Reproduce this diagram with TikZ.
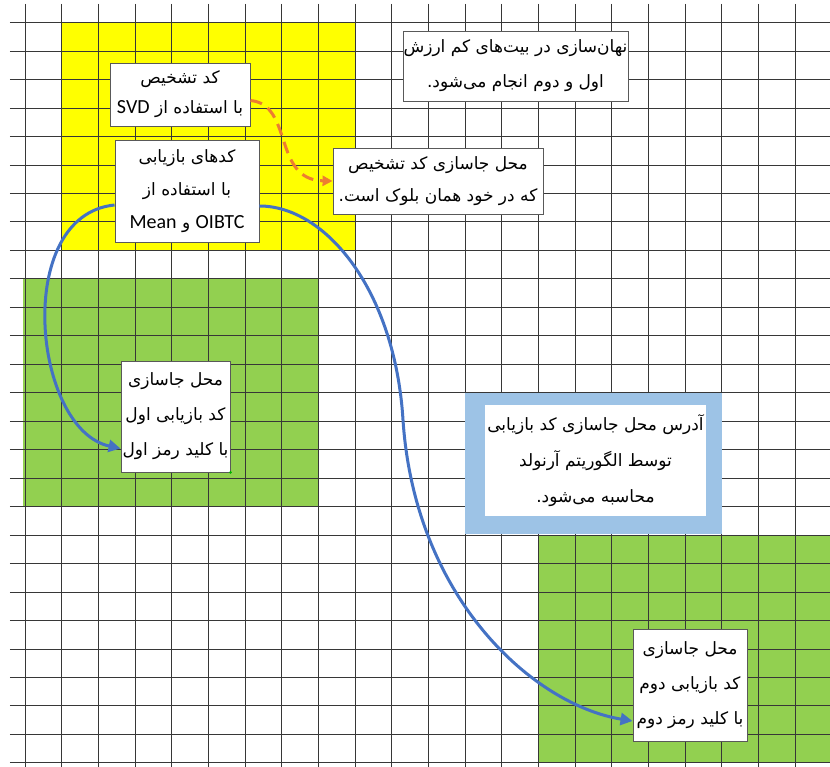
\documentclass[tikz,border=0pt]{standalone}
\usepackage{fontspec}
\usepackage{tikz}
\usetikzlibrary{arrows.meta}
\TeXXeTstate=1
\newfontfamily\arabicfont[Script=Arabic]{DejaVu Sans}
\newfontfamily\latinfont{Carlito}
\newcommand{\fatext}[1]{\beginR #1\endR}
\newcommand{\entext}[1]{\beginL{\latinfont\fontsize{20}{20}\selectfont #1}\endL}

\definecolor{cellyellow}{RGB}{255,255,0}
\definecolor{cellgreen}{RGB}{146,208,80}
\definecolor{cellblue}{RGB}{157,195,230}
\definecolor{arrowblue}{RGB}{68,114,196}
\definecolor{arroworange}{RGB}{237,125,49}
\definecolor{gridgray}{RGB}{55,55,55}

\begin{document}
\begin{tikzpicture}[x=1pt,y=-1pt,
    gridline/.style={gridgray, line width=1pt},
    notebox/.style={draw=black!65, line width=0.9pt, fill=white, inner sep=0pt, align=center,
        font=\arabicfont\fontsize{17}{33}\selectfont},
    link/.style={arrowblue, line width=3pt, -{Triangle[length=12pt,width=12pt]}}]
    \useasboundingbox (0,0) rectangle (830,767);
    \fill[white] (0,0) rectangle (830,767);

    % coloured blocks and the grid of pixels
    \begin{scope}[shift={(25,22.7)}, x=36.67pt, y=-28.47pt]
        \fill[cellyellow] (1,0) rectangle (9,8);
        \fill[cellgreen] (-0.05,9) rectangle (8,17);
        \fill[cellgreen] (14,18) rectangle (21.95,26);
        \foreach \i in {0,...,21} \draw[gridline] (\i,-0.66) -- (\i,26.14);
        \foreach \j in {0,...,26} \draw[gridline] (-0.41,\j) -- (21.95,\j);
        \fill[cellblue] (12,13) rectangle (19,17.97);
    \end{scope}

    % notes
    \node[notebox, minimum width=225pt, minimum height=70pt, font=\arabicfont\fontsize{17}{35}\selectfont] (hide) at (515.5,66)
        {\fatext{نهان^^^^200cسازی در بیت^^^^200cهای کم ارزش}\\ \fatext{اول و دوم انجام می^^^^200cشود.}};
    \node[notebox, minimum width=140pt, minimum height=63pt, font=\arabicfont\fontsize{17}{30}\selectfont] (svd) at (180,94.5)
        {\fatext{کد تشخیص}\\ \fatext{با استفاده از \entext{SVD}}};
    \node[notebox, minimum width=144pt, minimum height=102pt] (rec) at (187,191)
        {\fatext{کدهای بازیابی}\\ \fatext{با استفاده از}\\ \fatext{\entext{OIBTC} و \entext{Mean}}};
    \node[notebox, minimum width=210pt, minimum height=66pt, font=\arabicfont\fontsize{17}{32}\selectfont] (place) at (438,181)
        {\fatext{محل جاسازی کد تشخیص}\\ \fatext{که در خود همان بلوک است.}};
    \node[notebox, minimum width=109pt, minimum height=111pt, font=\arabicfont\fontsize{17}{35}\selectfont] (first) at (175.5,416.5)
        {\fatext{محل جاسازی}\\ \fatext{کد بازیابی اول}\\ \fatext{با کلید رمز اول}};
    \node[notebox, minimum width=114pt, minimum height=112pt, font=\arabicfont\fontsize{17}{35}\selectfont] (second) at (690,685)
        {\fatext{محل جاسازی}\\ \fatext{کد بازیابی دوم}\\ \fatext{با کلید رمز دوم}};
    \node[notebox, draw=none, minimum width=221pt, minimum height=111pt, font=\arabicfont\fontsize{17}{36}\selectfont] (arnold) at (595.5,460.5)
        {\fatext{آدرس محل جاسازی کد بازیابی}\\ \fatext{توسط الگوریتم آرنولد}\\ \fatext{محاسبه می^^^^200cشود.}};
    \fill[green!70!black] (first.south east) circle (1.5pt);

    % arrows
    \draw[arroworange, line width=3pt, dash pattern=on 12pt off 7pt, -{Triangle[length=10pt,width=10pt]}]
        ([yshift=-6pt]svd.east) .. controls +(43,4) and +(-60,-1) .. (place.west);
    \draw[link] ([yshift=-14pt]rec.west) .. controls +(-102,10) and +(-88,-19) .. ([yshift=-32pt]first.west);
    \draw[link] ([yshift=-15pt]rec.east) .. controls +(66,0) and +(-8,-130) .. (403,420)
        .. controls +(12,180) and +(-98,-16) .. ([yshift=-36pt]second.west);
\end{tikzpicture}
\end{document}
